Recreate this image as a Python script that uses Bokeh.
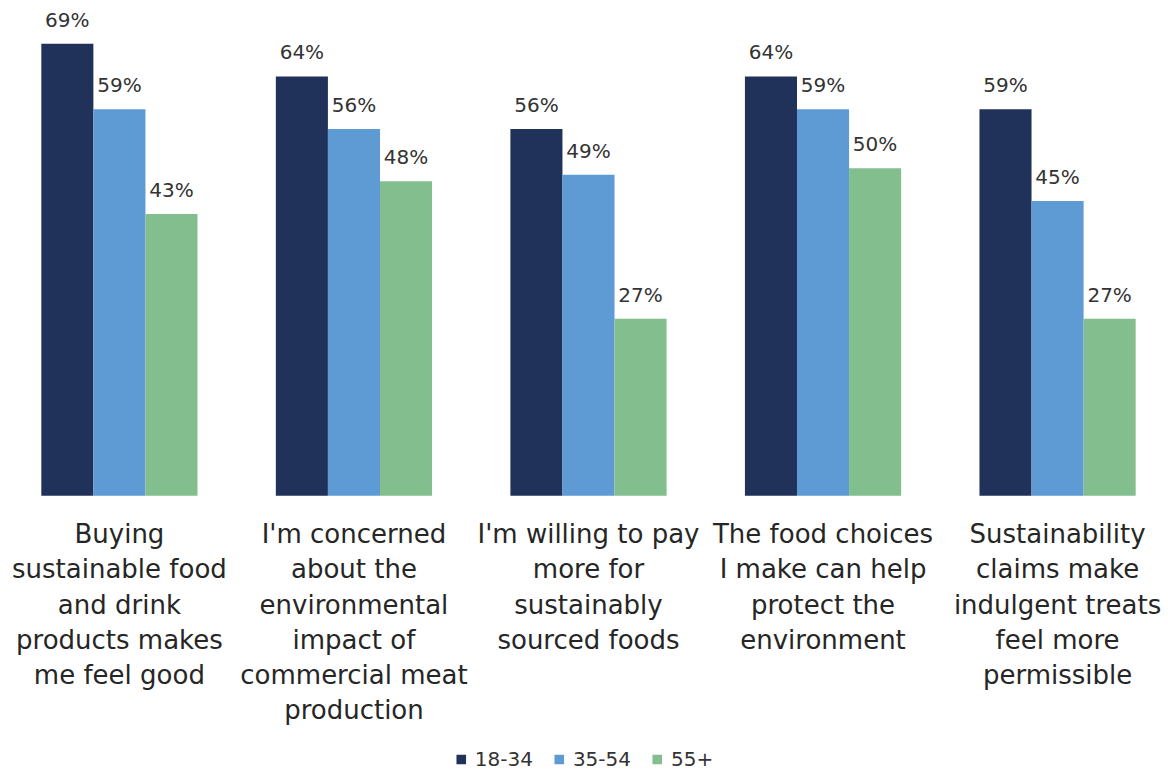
from bokeh.plotting import figure
from bokeh.models import ColumnDataSource, Range1d, Legend, LegendItem
from bokeh.transform import dodge
from bokeh.core.properties import value
from bokeh.embed import file_html
from bokeh.resources import INLINE

categories = [
    "Buying\nsustainable food\nand drink\nproducts makes\nme feel good",
    "I'm concerned\nabout the\nenvironmental\nimpact of\ncommercial meat\nproduction",
    "I'm willing to pay\nmore for\nsustainably\nsourced foods",
    "The food choices\nI make can help\nprotect the\nenvironment",
    "Sustainability\nclaims make\nindulgent treats\nfeel more\npermissible",
]
series_names = ["18-34", "35-54", "55+"]
v_18_34 = [69, 64, 56, 64, 59]
v_35_54 = [59, 56, 49, 59, 45]
v_55_plus = [43, 48, 27, 50, 27]
colors = ["#20315A", "#5E9AD3", "#83BE8F"]

FONT = "DejaVu Sans"
idx = list(range(len(categories)))

src = ColumnDataSource(dict(
    x=idx,
    cat=categories,
    a=v_18_34, b=v_35_54, c=v_55_plus,
    la=[f"{v}%" for v in v_18_34],
    lb=[f"{v}%" for v in v_35_54],
    lc=[f"{v}%" for v in v_55_plus],
))

p = figure(width=1168, height=771, output_backend="svg", toolbar_location=None,
           x_range=Range1d(-0.507, 4.473), y_range=Range1d(-42.1, 75.6),
           min_border=0)
p.xaxis.visible = False
p.yaxis.visible = False
p.grid.visible = False
p.outline_line_color = None
p.background_fill_color = "white"

bw = 0.222
offsets = [-bw, 0.0, bw]
renderers = []
for col, lab, off, colr in zip(["a", "b", "c"], ["la", "lb", "lc"], offsets, colors):
    r = p.vbar(x=dodge("x", off), top=col, bottom=0, width=bw, source=src,
               fill_color=colr, line_color=None)
    renderers.append(r)
    p.text(x=dodge("x", off), y=col, text=lab, source=src,
           text_align="center", text_baseline="alphabetic", y_offset=-24,
           text_font=value(FONT), text_font_size="20px", text_color="#333333")

p.text(x="x", y=-3.6, text="cat", source=src, text_align="center",
       text_baseline="top", text_font=value(FONT), text_font_size="26px",
       text_line_height=1.173, text_color="#262626")

legend = Legend(items=[LegendItem(label=n, renderers=[r]) for n, r in zip(series_names, renderers)],
                orientation="horizontal", location="bottom_center",
                label_text_font=FONT, label_text_font_size="20px", label_text_color="#333333",
                glyph_width=12, glyph_height=12, label_standoff=8, spacing=20,
                border_line_color=None, background_fill_alpha=0, padding=0, margin=0)
p.add_layout(legend, "center")

open("out.html", "w").write(file_html(p, INLINE))
